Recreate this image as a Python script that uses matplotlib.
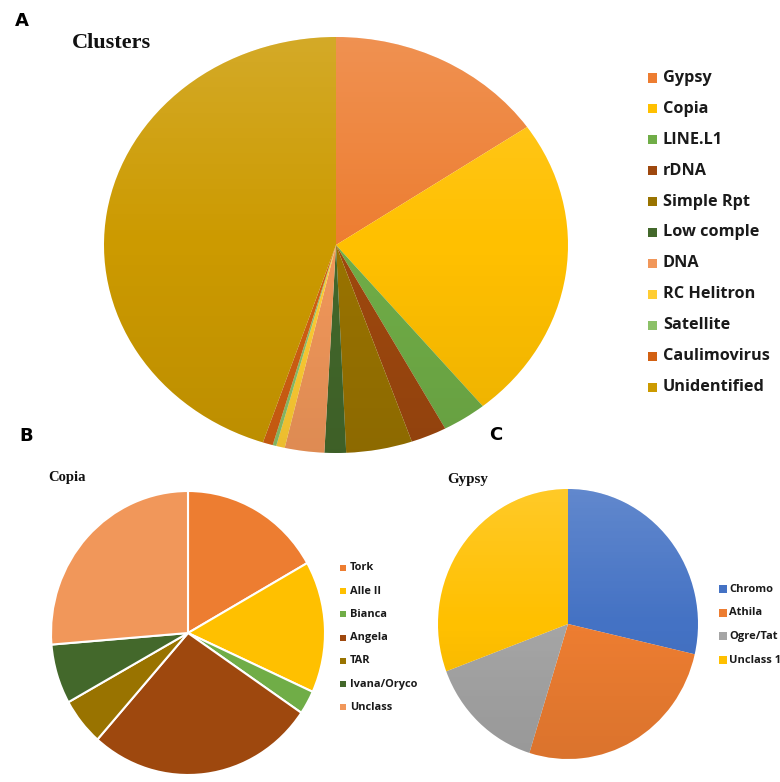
import numpy as np
import matplotlib
matplotlib.use("Agg")
import matplotlib.pyplot as plt
from matplotlib.patches import Circle, Rectangle

# ---------------- data ----------------
A_labels = ['Gypsy', 'Copia', 'LINE.L1', 'rDNA', 'Simple Rpt', 'Low comple', 'DNA',
            'RC Helitron', 'Satellite', 'Caulimovirus', 'Unidentified']
A_values = [15.4, 23.7, 3.1, 2.5, 4.6, 1.5, 2.75, 0.6, 0.25, 0.7, 44.9]
A_colors = ['#ED7D31', '#FFC000', '#70AD47', '#9E480E', '#997300', '#43682B', '#F1975A',
            '#FFCD33', '#8CC168', '#D26012', '#CC9A00']

B_labels = ['Tork', 'Alle II', 'Bianca', 'Angela', 'TAR', 'Ivana/Oryco', 'Unclass']
B_values = [16.8, 15.0, 2.7, 27.0, 5.4, 6.8, 26.3]
B_colors = ['#ED7D31', '#FFC000', '#70AD47', '#9E480E', '#997300', '#43682B', '#F1975A']

C_labels = ['Chromo', 'Athila', 'Ogre/Tat', 'Unclass 1']
C_values = [28.6, 26.2, 14.5, 30.7]
C_colors = ['#4472C4', '#ED7D31', '#A5A5A5', '#FFC000']

W, H = 780, 782
fig = plt.figure(figsize=(W / 100, H / 100), dpi=100)


def axes_px(cx, cy, rx, ry):
    return fig.add_axes([(cx - rx) / W, 1 - (cy + ry) / H, 2 * rx / W, 2 * ry / H])


def draw_pie(ax, values, colors, edge=None, lw=0, gradient=True):
    wedges, _ = ax.pie(values, colors=colors, startangle=90, counterclock=False,
                       radius=1, wedgeprops=dict(edgecolor=edge if edge else 'none',
                                                 linewidth=lw))
    if gradient:
        n = 600
        g = np.zeros((n, 1, 4))
        t = np.linspace(0, 1, n)
        # lighter near the top, slightly darker at the bottom
        white_a = np.clip(0.16 * (0.5 - t) / 0.5, 0, None)
        black_a = np.clip(0.08 * (t - 0.5) / 0.5, 0, None)
        g[:, 0, :3] = np.where(t[:, None] < 0.5, 1.0, 0.0)
        g[:, 0, 3] = white_a + black_a
        clip = Circle((0, 0), 1, transform=ax.transData)
        im = ax.imshow(g, extent=(-1, 1, -1, 1), aspect='auto', origin='upper',
                       zorder=5, interpolation='nearest')
        im.set_clip_path(clip)
    ax.set_aspect('auto')
    ax.set_xlim(-1, 1)
    ax.set_ylim(-1, 1)
    ax.axis('off')
    return wedges


def legend_px(labels, colors, x_sq, y0, dy, sq, x_txt, fs):
    for i, (lab, col) in enumerate(zip(labels, colors)):
        y = y0 + i * dy
        fig.patches.append(Rectangle(((x_sq) / W, 1 - (y + sq / 2) / H), sq / W, sq / H,
                                     facecolor=col, edgecolor='none',
                                     transform=fig.transFigure, figure=fig))
        fig.text(x_txt / W, 1 - y / H, lab, ha='left', va='center', fontsize=fs,
                 fontweight='bold', family='Open Sans', color='#1a1a1a')


# ---- Panel A ----
axA = axes_px(336, 245, 232, 208)
draw_pie(axA, A_values, A_colors)
legend_px(A_labels, A_colors, 648, 78, 30.9, 9, 663, 11.7)

# ---- Panel B ----
axB = axes_px(188, 633, 137, 142)
draw_pie(axB, B_values, B_colors, edge='white', lw=1.5, gradient=False)
legend_px(B_labels, B_colors, 340, 568, 23.2, 6, 350, 7.9)

# ---- Panel C ----
axC = axes_px(568, 624, 130, 135)
draw_pie(axC, C_values, C_colors)
legend_px(C_labels, C_colors, 719, 589, 23.7, 8, 729, 8.0)

# ---- titles / panel letters ----
for letter, x, y in [('A', 22, 21), ('B', 26, 436), ('C', 496, 435)]:
    fig.text(x / W, 1 - y / H, letter, ha='center', va='center', fontsize=13,
             fontweight='bold', family='DejaVu Sans', color='black')

fig.text(72 / W, 1 - 43 / H, 'Clusters', ha='left', va='center', fontsize=16,
         fontweight='bold', family='Liberation Serif', color='#111111')
fig.text(48 / W, 1 - 478 / H, 'Copia', ha='left', va='center', fontsize=10.5,
         fontweight='bold', family='Liberation Serif', color='#111111')
fig.text(447 / W, 1 - 479 / H, 'Gypsy', ha='left', va='center', fontsize=10.8,
         fontweight='bold', family='Liberation Serif', color='#111111')

fig.savefig('out.png', dpi=100, facecolor='white')
